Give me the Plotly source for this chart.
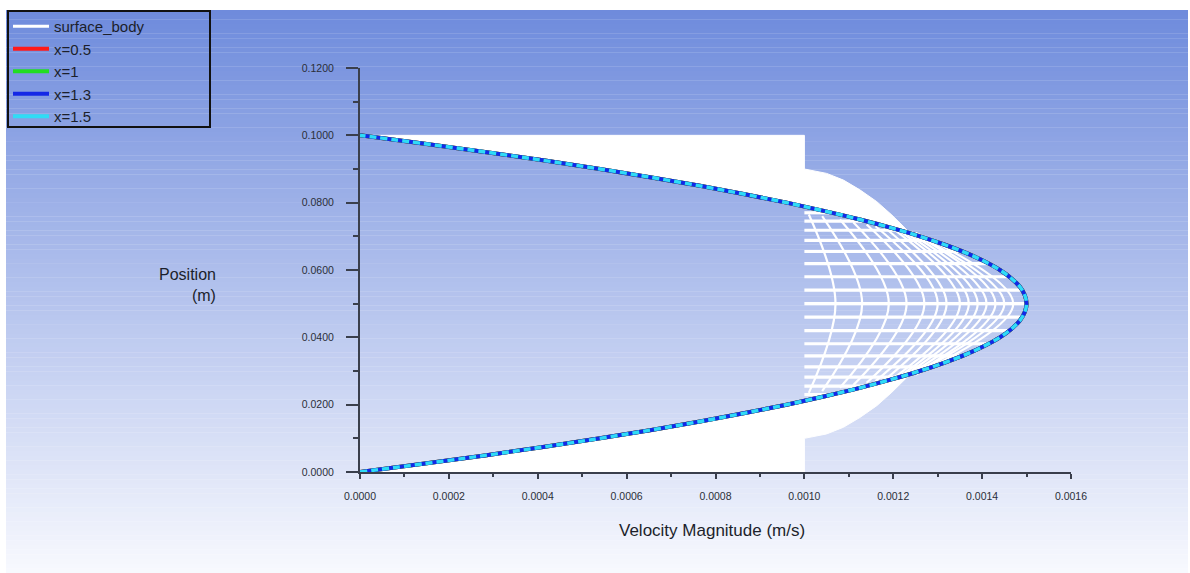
import plotly.graph_objects as go

# ---- data -------------------------------------------------------------
# Fully developed velocity profile (position in m, velocity in m/s)
profile_y = [0.0000, 0.0025, 0.0050, 0.0075, 0.0100, 0.0125, 0.0150, 0.0175, 0.0200, 0.0225,
             0.0250, 0.0275, 0.0300, 0.0325, 0.0350, 0.0375, 0.0400, 0.0425, 0.0450, 0.0475,
             0.0500, 0.0525, 0.0550, 0.0575, 0.0600, 0.0625, 0.0650, 0.0675, 0.0700, 0.0725,
             0.0750, 0.0775, 0.0800, 0.0825, 0.0850, 0.0875, 0.0900, 0.0925, 0.0950, 0.0975,
             0.1000]
profile_u = [0.000000, 0.000146, 0.000285, 0.000416, 0.000540, 0.000656, 0.000765, 0.000866,
             0.000960, 0.001046, 0.001125, 0.001196, 0.001260, 0.001316, 0.001365, 0.001406,
             0.001440, 0.001466, 0.001485, 0.001496, 0.001500, 0.001496, 0.001485, 0.001466,
             0.001440, 0.001406, 0.001365, 0.001316, 0.001260, 0.001196, 0.001125, 0.001046,
             0.000960, 0.000866, 0.000765, 0.000656, 0.000540, 0.000416, 0.000285, 0.000146,
             0.000000]

# Surface body: plug-flow block and the near-wall overshoot envelopes
block_u = [0.0, 0.0010, 0.0010, 0.0]
block_y = [0.0, 0.0, 0.1000, 0.1000]
upper_env_u = [0.001000, 0.001013, 0.001050, 0.001088, 0.001125, 0.001163, 0.001197, 0.001230]
upper_env_y = [0.0900, 0.0897, 0.0887, 0.0867, 0.0838, 0.0803, 0.0763, 0.0720]
lower_env_u = [0.001000, 0.001013, 0.001050, 0.001088, 0.001125, 0.001163, 0.001197, 0.001230]
lower_env_y = [0.0100, 0.0103, 0.0113, 0.0133, 0.0162, 0.0197, 0.0237, 0.0280]

# Surface body: mesh rows (height, start and end velocity)
row_y = [0.0230, 0.0255, 0.0282, 0.0312, 0.0345, 0.0381, 0.0420, 0.0460, 0.0500,
         0.0540, 0.0580, 0.0619, 0.0655, 0.0688, 0.0718, 0.0745, 0.0770]
row_u_start = [0.0010] * 17
row_u_end = [0.001063, 0.001140, 0.001215, 0.001288, 0.001356, 0.001415, 0.001462, 0.001490, 0.001500,
             0.001490, 0.001462, 0.001415, 0.001356, 0.001288, 0.001215, 0.001140, 0.001063]

# Surface body: developing profiles at successive stations
station_center_u = [0.00107, 0.00113, 0.00119, 0.00123, 0.00127, 0.00130, 0.00132,
                    0.00135, 0.00137, 0.00139, 0.00141, 0.00143, 0.00145, 0.00147]
station_end_u = [0.00101, 0.00104, 0.00108, 0.00111, 0.00114, 0.00116, 0.00118,
                 0.00120, 0.00121, 0.00122, 0.00123, 0.00124, 0.00124, 0.00125]
station_end_y = [0.0765, 0.0760, 0.0750, 0.0742, 0.0735, 0.0730, 0.0727,
                 0.0722, 0.0720, 0.0717, 0.0715, 0.0713, 0.0712, 0.0711]
channel_mid = 0.05
channel_height = 0.1

line_names = ["x=0.5", "x=1", "x=1.3", "x=1.5"]
line_colors = ["#ff1a1a", "#22dd22", "#1428e6", "#30dcf5"]

x_ticks = [0.0000, 0.0002, 0.0004, 0.0006, 0.0008, 0.0010, 0.0012, 0.0014, 0.0016]
y_ticks = [0.0000, 0.0200, 0.0400, 0.0600, 0.0800, 0.1000, 0.1200]

# ---- figure -----------------------------------------------------------
W, H = 1190, 573
fig = go.Figure()

# white region outside the developed profile (upper and lower)
top_idx = [i for i, y in enumerate(profile_y) if y >= upper_env_y[-1]]
poly_u = [block_u[3], block_u[2]] + upper_env_u + [profile_u[i] for i in top_idx]
poly_y = [block_y[3], block_y[2]] + upper_env_y + [profile_y[i] for i in top_idx]
fig.add_trace(go.Scatter(x=poly_u, y=poly_y, fill="toself", fillcolor="white",
                         line=dict(color="white", width=1), mode="lines",
                         legendgroup="body", showlegend=False, hoverinfo="skip"))
bot_idx = [i for i, y in enumerate(profile_y) if y <= lower_env_y[-1]][::-1]
poly_u = [block_u[0], block_u[1]] + lower_env_u + [profile_u[i] for i in bot_idx]
poly_y = [block_y[0], block_y[1]] + lower_env_y + [profile_y[i] for i in bot_idx]
fig.add_trace(go.Scatter(x=poly_u, y=poly_y, fill="toself", fillcolor="white",
                         line=dict(color="white", width=1), mode="lines",
                         legendgroup="body", showlegend=False, hoverinfo="skip"))

# developing station profiles
for cu, eu, ey in zip(station_center_u, station_end_u, station_end_y):
    fig.add_trace(go.Scatter(x=[eu, cu, eu], y=[ey, channel_mid, channel_height - ey],
                             mode="lines", line=dict(color="white", width=2.2, shape="spline"),
                             legendgroup="body", showlegend=False, hoverinfo="skip"))

# mesh rows (legend entry for the surface body)
rx, ry = [], []
for y, u0, u1 in zip(row_y, row_u_start, row_u_end):
    rx += [u0, u1, None]
    ry += [y, y, None]
fig.add_trace(go.Scatter(x=rx, y=ry, mode="lines", name="surface_body",
                         line=dict(color="white", width=3.2),
                         legendgroup="body", hoverinfo="skip"))

# velocity profiles at the four stations
for name, col in zip(line_names, line_colors):
    last = name == "x=1.5"
    fig.add_trace(go.Scatter(x=profile_u, y=profile_y, mode="lines", name=name,
                             line=dict(color=col, width=3.4 if last else 4, shape="spline",
                                       dash="7px,4px" if last else "solid"),
                             legendgroup=name, showlegend=not last))
    if last:
        fig.add_trace(go.Scatter(x=[None], y=[None], mode="lines", name=name,
                                 line=dict(color=col, width=4), legendgroup=name))

# background gradient
shapes = []
n = 120
top_c, bot_c = (110, 139, 220), (248, 249, 254)
y_top = 1 - 10 / H
for k in range(n):
    t = (k + 0.5) / n
    c = tuple(round(a + (b - a) * t) for a, b in zip(top_c, bot_c))
    shapes.append(dict(type="rect", xref="paper", yref="paper", layer="below",
                       x0=6 / W, x1=1188 / W,
                       y0=y_top - (k + 1) * y_top / n - 0.0005, y1=y_top - k * y_top / n,
                       fillcolor="rgb(%d,%d,%d)" % c, line=dict(width=0)))
# legend frame
shapes.append(dict(type="rect", xref="paper", yref="paper", layer="above",
                   x0=8 / W, x1=210 / W, y0=1 - 127 / H, y1=1 - 11 / H,
                   line=dict(color="#111111", width=2), fillcolor="rgba(0,0,0,0)"))

axis_col = "#3a3f4c"
font_fam = "Liberation Sans, Arial, sans-serif"
tick_font = dict(family=font_fam, size=10.5, color="#2a2e38")
fig.update_layout(
    width=W, height=H,
    margin=dict(l=0, r=0, t=0, b=0),
    paper_bgcolor="white", plot_bgcolor="rgba(0,0,0,0)",
    template="none",
    shapes=shapes,
    showlegend=True,
    legend=dict(x=8 / W, y=1 - 10 / H, xanchor="left", yanchor="top",
                bgcolor="rgba(0,0,0,0)", borderwidth=0, tracegroupgap=0, itemwidth=36,
                font=dict(family=font_fam, size=15, color="#1c1f2b")),
    xaxis=dict(domain=[360 / W, 1071 / W], range=[0, 0.0016], tickvals=x_ticks,
               tickformat=".4f", ticks="outside", ticklen=5, tickwidth=1.5, tickcolor=axis_col,
               showline=True, linecolor=axis_col, linewidth=2, showgrid=False, zeroline=False,
               tickfont=tick_font, ticklabelstandoff=8, layer="below traces",
               minor=dict(dtick=0.0001, ticks="outside", ticklen=3, tickcolor=axis_col, showgrid=False)),
    yaxis=dict(domain=[(H - 472) / H, (H - 68) / H], range=[0, 0.12], tickvals=y_ticks,
               tickformat=".4f", ticks="outside", ticklen=12, tickwidth=2, tickcolor=axis_col,
               showline=True, linecolor=axis_col, linewidth=2, showgrid=False, zeroline=False,
               tickfont=tick_font, ticklabelstandoff=10, layer="above traces",
               minor=dict(dtick=0.01, ticks="outside", ticklen=5, tickcolor=axis_col, showgrid=False)),
    annotations=[
        dict(text="Velocity Magnitude (m/s)", xref="paper", yref="paper",
             x=712 / W, y=1 - 530 / H, xanchor="center", yanchor="middle", showarrow=False,
             font=dict(family=font_fam, size=17, color="#1c1f2b")),
        dict(text="Position<br>(m)", xref="paper", yref="paper", align="right",
             x=218 / W, y=1 - 285 / H, xanchor="right", yanchor="middle", showarrow=False,
             font=dict(family=font_fam, size=16, color="#1c1f2b")),
    ],
)

fig.write_html("out.html")
